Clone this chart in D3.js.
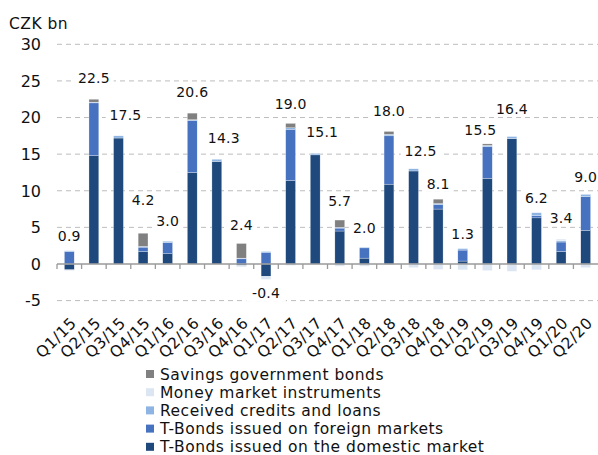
<!DOCTYPE html>
<html>
<head>
<meta charset="utf-8">
<script src="https://cdn.jsdelivr.net/npm/d3@7"></script>
<style>
  html, body { margin: 0; padding: 0; background: #fff; }
  svg { display: block; font-family: "DejaVu Sans", Verdana, sans-serif; }
</style>
</head>
<body>
<svg id="chart" width="598" height="455"></svg>
<script>
const quarters = ["Q1/15","Q2/15","Q3/15","Q4/15","Q1/16","Q2/16","Q3/16","Q4/16","Q1/17","Q2/17","Q3/17",
  "Q4/17","Q1/18","Q2/18","Q3/18","Q4/18","Q1/19","Q2/19","Q3/19","Q4/19","Q1/20","Q2/20"];

// CZK bn
const domestic = [-0.8, 14.8, 17.2, 1.7, 1.4, 12.5, 14.0, -0.2, -1.7, 11.4, 14.9, 4.5, 0.8, 10.9, 12.7, 7.5, 0.4, 11.7, 17.1, 6.3, 1.7, 4.6];
const foreign  = [1.7, 7.2, 0, 0.6, 1.5, 7.1, 0, 0.7, 1.6, 7.0, 0, 0.4, 1.4, 6.6, 0, 0.6, 1.5, 4.3, 0, 0.3, 1.3, 4.6];
const credits  = [0.1, 0.1, 0.3, 0.1, 0.2, 0.1, 0.3, 0.1, 0.1, 0.2, 0.2, 0.1, 0.1, 0.2, 0.3, 0.15, 0.2, 0.2, 0.3, 0.4, 0.2, 0.3];
const money    = [-0.1, 0, 0, 0, -0.1, 0, 0, -0.2, -0.4, -0.2, 0, -0.3, -0.3, -0.1, -0.5, -0.75, -0.8, -0.9, -1.0, -0.8, 0.2, -0.5];
const savings  = [0, 0.4, 0, 1.8, 0, 0.9, 0, 2.0, 0, 0.6, 0, 1.0, 0, 0.4, 0, 0.6, 0, 0.2, 0, 0, 0, 0];

const series = [
  { key: "domestic", name: "T-Bonds issued on the domestic market", color: "#1f497d", values: domestic },
  { key: "foreign",  name: "T-Bonds issued on foreign markets",    color: "#4672c0", values: foreign },
  { key: "credits",  name: "Received credits and loans",           color: "#8eb4e3", values: credits },
  { key: "money",    name: "Money market instruments",             color: "#dce6f2", values: money },
  { key: "savings",  name: "Savings government bonds",             color: "#808080", values: savings },
];
const yTicks = [-5, 0, 5, 10, 15, 20, 25, 30];

const svg = d3.select("#chart");
const plotL = 57, plotR = 598, plotT = 44.3, plotB = 300.6;
const ink = "#111";

const x = d3.scaleBand(quarters, [plotL, plotR]).paddingInner(0.6).paddingOuter(0.3);
const y = d3.scaleLinear([-5, 30], [plotB, plotT]);

const rows = quarters.map((q, i) => {
  const r = { q };
  series.forEach((s) => r[s.key] = s.values[i]);
  return r;
});
const stack = d3.stack().keys(series.map((s) => s.key)).offset(d3.stackOffsetDiverging);
const layers = stack(rows);

// gridlines
svg.append("g").selectAll("line").data(yTicks.filter((v) => v !== 0)).join("line")
  .attr("x1", plotL).attr("x2", plotR)
  .attr("y1", (d) => y(d)).attr("y2", (d) => y(d))
  .attr("stroke", "#bdbdbd").attr("stroke-dasharray", "5,4");

// y tick labels
svg.append("g").selectAll("text").data(yTicks).join("text")
  .attr("x", 41).attr("y", (d) => y(d)).attr("dy", "0.36em")
  .attr("text-anchor", "end").attr("font-size", 16).attr("fill", ink)
  .text((d) => d);

svg.append("text").attr("x", 9).attr("y", 29).attr("font-size", 15.5).attr("letter-spacing", 0.5)
  .attr("fill", ink).text("CZK bn");

// bars
svg.append("g").selectAll("g").data(layers).join("g")
  .attr("fill", (l, i) => series[i].color)
  .selectAll("rect").data((l) => l).join("rect")
  .attr("x", (d) => x(d.data.q))
  .attr("width", x.bandwidth())
  .attr("y", (d) => y(Math.max(d[0], d[1])))
  .attr("height", (d) => Math.abs(y(d[0]) - y(d[1])))
  .attr("stroke", "#fff").attr("stroke-width", 0.4).attr("stroke-opacity", 0.7);

// zero axis with ticks at category boundaries
const axisG = svg.append("g");
axisG.append("line").attr("x1", plotL).attr("x2", plotR).attr("y1", y(0)).attr("y2", y(0))
  .attr("stroke", "#9a9a9a").attr("stroke-width", 1.3);
axisG.selectAll("line.tk").data(quarters).join("line").attr("class", "tk")
  .attr("x1", (q) => x(q) + x.bandwidth() / 2 - x.step() / 2)
  .attr("x2", (q) => x(q) + x.bandwidth() / 2 - x.step() / 2)
  .attr("y1", y(0)).attr("y2", y(0) + 5)
  .attr("stroke", "#9a9a9a").attr("stroke-width", 1.3);

// x labels
svg.append("g").selectAll("text").data(quarters).join("text")
  .attr("transform", (q) => `translate(${x(q) + x.bandwidth() / 2 + 8},${324}) rotate(-45)`)
  .attr("text-anchor", "end").attr("font-size", 15.5).attr("letter-spacing", 0.5).attr("fill", ink)
  .text((q) => q);

// total labels
const totals = quarters.map((q, i) => d3.sum(series, (s) => s.values[i]));
const posTop = quarters.map((q, i) => d3.sum(series, (s) => Math.max(0, s.values[i])));
const negBot = quarters.map((q, i) => d3.sum(series, (s) => Math.min(0, s.values[i])));
const fmt = (v) => d3.format(".1f")(v).replace("\u2212", "-");
const labelFont = 14;
const lab = totals.map((t, i) => {
  const txt = fmt(t);
  const cx = x(quarters[i]) + x.bandwidth() / 2;
  const cy = t >= 0 ? y(t) - 21 : y(negBot[i]) + 14;
  return { i, txt, t, cx, cy, w: txt.length * 0.6 * labelFont };
});
// lift the taller of two crowded neighbours
for (let k = 1; k < lab.length; k++) {
  const a = lab[k - 1], b = lab[k];
  if (Math.abs(a.cy - b.cy) < 17) {
    if (a.t > b.t) a.cy = b.cy - 21; else b.cy = a.cy - 21;
  }
}
// keep boxes off neighbouring bars
lab.forEach((l) => {
  const half = l.w / 2 + 5, boxBottom = l.cy + 8;
  [-1, 1].forEach((dir) => {
    const j = l.i + dir;
    if (j < 0 || j >= quarters.length) return;
    if (y(posTop[j]) > boxBottom) return;
    const edge = x(quarters[j]) + (dir < 0 ? x.bandwidth() : 0);
    if (dir < 0 && l.cx - half < edge) l.cx += 7;
    if (dir > 0 && l.cx + half > edge) l.cx -= 7;
  });
});
const lg = svg.append("g").selectAll("g").data(lab).join("g")
  .attr("transform", (d) => `translate(${d.cx},${d.cy})`);
lg.append("rect").attr("x", (d) => -d.w / 2 - 3).attr("y", -8).attr("width", (d) => d.w + 6).attr("height", 16)
  .attr("fill", "#fff");
lg.append("text").attr("text-anchor", "middle").attr("dy", "0.36em")
  .attr("font-size", labelFont).attr("letter-spacing", 0.2).attr("fill", ink).text((d) => d.txt);

// legend
const legend = svg.append("g").attr("transform", "translate(146,374)")
  .selectAll("g").data(series.slice().reverse()).join("g")
  .attr("transform", (d, i) => `translate(0,${i * 18.2})`);
legend.append("rect").attr("x", 0).attr("y", -4).attr("width", 8).attr("height", 8).attr("fill", (d) => d.color);
legend.append("text").attr("x", 14).attr("dy", "0.36em").attr("font-size", 15.5).attr("letter-spacing", 0.5)
  .attr("fill", ink).text((d) => d.name);
</script>
</body>
</html>
